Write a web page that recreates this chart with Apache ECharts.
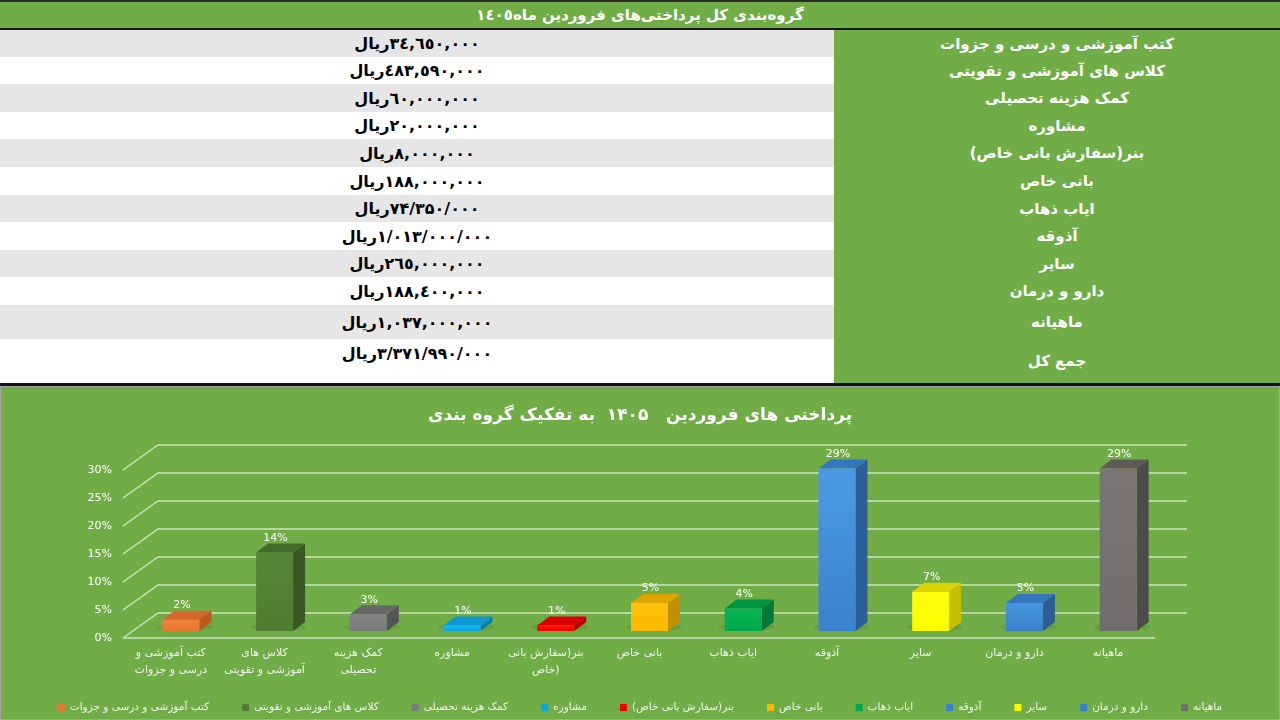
<!DOCTYPE html>
<html lang="fa">
<head>
<meta charset="utf-8">
<script src="https://cdn.jsdelivr.net/npm/echarts@6/dist/echarts.min.js"></script>
<style>
html, body { margin: 0; padding: 0; background: #fff; }
body { width: 1280px; height: 720px; position: relative; overflow: hidden; font-family: "DejaVu Sans", sans-serif; }
#head { position: absolute; left: 0; top: 0; width: 1280px; height: 30px; box-sizing: border-box;
  border-top: 2px solid #2b2b2b; border-bottom: 2px solid #151515; background: #70AD47;
  color: #fff; font-weight: bold; font-size: 15px; line-height: 26px; text-align: center; }
#tbl { position: absolute; left: 0; top: 30px; width: 1280px; border-collapse: collapse; table-layout: fixed; }
#tbl td { padding: 0; overflow: hidden; white-space: nowrap; }
#tbl td.val { width: 834px; text-align: center; color: #000; font-size: 16px; font-weight: bold; }
#tbl td.lab { background: #70AD47; color: #fff; font-weight: bold; font-size: 15px; text-align: center; }
#rule { position: absolute; left: 0; top: 383px; width: 1280px; height: 3px; background: #111; }
#chart { position: absolute; left: 0; top: 386px; width: 1280px; height: 334px; box-sizing: border-box;
  border: 1px solid #a5a5a5; background: #70AD47; }
</style>
</head>
<body>
<div id="head" dir="rtl"></div>
<table id="tbl" dir="ltr"><tbody id="rows"></tbody></table>
<div id="rule"></div>
<div id="chart"></div>
<script>
// table rows (top part)
var rowLabels = ['کتب آموزشی و درسی و جزوات', 'کلاس های آموزشی و تقویتی', 'کمک هزینه تحصیلی', 'مشاوره',
  'بنر(سفارش بانی خاص)', 'بانی خاص', 'ایاب ذهاب', 'آذوقه', 'سایر', 'دارو و درمان', 'ماهیانه', 'جمع کل'];
var rowAmounts = ['٣٤,٦٥٠,٠٠٠ریال', '٤٨٣,٥٩٠,٠٠٠ریال', '٦٠,٠٠٠,٠٠٠ریال', '٢٠,٠٠٠,٠٠٠ریال',
  '٨,٠٠٠,٠٠٠ریال', '١٨٨,٠٠٠,٠٠٠ریال', '۷۴/۳۵۰/۰۰۰ریال', '۱/۰۱۳/۰۰۰/۰۰۰ریال',
  '٢٦٥,٠٠٠,٠٠٠ریال', '١٨٨,٤٠٠,٠٠٠ریال', '١,٠٣٧,٠٠٠,٠٠٠ریال', '۳/۳۷۱/۹۹۰/۰۰۰ریال'];
var rowHeights = [27, 27, 28, 27, 28, 28, 27, 28, 27, 28, 34, 44];
var headTitle = 'گروه‌بندی کل پرداختی‌های فروردین ماه١٤٠٥';

// chart data
var categories = ['کتب آموزشی و درسی و جزوات', 'کلاس های آموزشی و تقویتی', 'کمک هزینه تحصیلی', 'مشاوره',
  'بنر(سفارش بانی خاص)', 'بانی خاص', 'ایاب ذهاب', 'آذوقه', 'سایر', 'دارو و درمان', 'ماهیانه'];
var axisLabels = ['کتب آموزشی و\nدرسی و جزوات', 'کلاس های\nآموزشی و تقویتی', 'کمک هزینه\nتحصیلی', 'مشاوره',
  'بنر(سفارش بانی\nخاص)', 'بانی خاص', 'ایاب ذهاب', 'آذوقه', 'سایر', 'دارو و درمان', 'ماهیانه'];
var shares = [2, 14, 3, 1, 1, 5, 4, 29, 7, 5, 29];
var yTicks = [0, 5, 10, 15, 20, 25, 30];
var chartTitle = 'پرداختی های فروردین   ۱۴۰۵  به تفکیک گروه بندی';

// colours: front (top->bottom), side, top face
var barColors = [
  { front: ['#F08239', '#EA7630'], side: '#B95A1E', top: '#D4672A' },
  { front: ['#578536', '#507C31'], side: '#385722', top: '#436A2A' },
  { front: ['#848484', '#7A7A7A'], side: '#545454', top: '#676767' },
  { front: ['#19B8F2', '#06A6E2'], side: '#0A7FAE', top: '#0E98CF' },
  { front: ['#FF1010', '#F20000'], side: '#B80000', top: '#D90000' },
  { front: ['#FFC20A', '#FBB800'], side: '#C29000', top: '#DDA500' },
  { front: ['#08B455', '#00A84B'], side: '#007835', top: '#009543' },
  { front: ['#4A9BE4', '#3A82CB'], side: '#2A5E95', top: '#3577BC' },
  { front: ['#FFFF10', '#FBFB00'], side: '#C4C000', top: '#D9D300' },
  { front: ['#4797E0', '#3A80C9'], side: '#2A5E95', top: '#3577BC' },
  { front: ['#7A7575', '#726D6D'], side: '#4E4A4A', top: '#5E5A5A' }
];

document.getElementById('head').textContent = headTitle;
var tb = document.getElementById('rows');
rowLabels.forEach(function (lab, i) {
  var tr = document.createElement('tr');
  tr.style.height = rowHeights[i] + 'px';
  var v = document.createElement('td');
  v.className = 'val';
  v.dir = 'rtl';
  v.style.background = (i % 2 === 0) ? '#E7E6E6' : '#FFFFFF';
  v.textContent = rowAmounts[i];
  if (i === rowLabels.length - 1) { v.style.verticalAlign = 'top'; v.style.paddingTop = '5px'; }
  var l = document.createElement('td');
  l.className = 'lab';
  l.dir = 'rtl';
  l.textContent = lab;
  tr.appendChild(v);
  tr.appendChild(l);
  tb.appendChild(tr);
});

var chartDom = document.getElementById('chart');
var myChart = echarts.init(chartDom);
var option;

var LINE = '#cfe3c0';
var DX = 34, DY = 25;     // depth of the floor / back wall
var BX = 10, BY = 7;      // bar plane offset from front
var BW = 37, SD = 12, SH = 9; // bar width and its side depth

var gridSeries = {
  type: 'custom',
  silent: true,
  z: 1,
  data: yTicks.map(function (v) { return [0, v]; }),
  encode: { x: 0, y: 1 },
  renderItem: function (params, api) {
    var cs = params.coordSys;
    var y = api.coord([0, api.value(1)])[1];
    var kids = [{
      type: 'polyline',
      shape: { points: [[cs.x - 1, y], [cs.x + DX, y - DY], [cs.x + cs.width + 32, y - DY]] },
      style: { stroke: LINE, lineWidth: 1.4, fill: null }
    }];
    if (api.value(1) === 0) {
      kids.push({ type: 'line', shape: { x1: cs.x - 1, y1: y, x2: cs.x + cs.width, y2: y },
        style: { stroke: LINE, lineWidth: 1.4 } });
    }
    return { type: 'group', children: kids };
  }
};

var barSeries = categories.map(function (name, k) {
  var col = barColors[k];
  return {
    type: 'custom',
    name: name,
    z: 2,
    itemStyle: { color: col.front[1] },
    data: [[k, shares[k]]],
    encode: { x: 0, y: 1 },
    renderItem: function (params, api) {
      var base = api.coord([api.value(0), 0]);
      var top = api.coord([api.value(0), api.value(1)]);
      var cx = base[0] + BX, y0 = base[1] - BY, y1 = top[1] - BY;
      var l = cx - BW / 2, r = cx + BW / 2;
      return {
        type: 'group',
        children: [
          { type: 'ellipse', shape: { cx: cx + 4, cy: y0 - 4, rx: 28, ry: 4 },
            style: { fill: 'rgba(40,70,20,0.12)', shadowBlur: 14, shadowColor: 'rgba(40,70,20,0.55)' } },
          { type: 'polygon', shape: { points: [[r, y1], [r + SD, y1 - SH], [r + SD, y0 - SH], [r, y0]] },
            style: { fill: col.side } },
          { type: 'polygon', shape: { points: [[l, y1], [r, y1], [r + SD, y1 - SH], [l + SD, y1 - SH]] },
            style: { fill: col.top } },
          { type: 'rect', shape: { x: l, y: y1, width: BW, height: y0 - y1 },
            style: { fill: new echarts.graphic.LinearGradient(0, 0, 0, 1, [
              { offset: 0, color: col.front[0] }, { offset: 1, color: col.front[1] }]) } },
          { type: 'text',
            style: { text: api.value(1) + '%', x: cx + 1, y: y1 - SH, align: 'center', verticalAlign: 'bottom',
              fill: '#ffffff', fontSize: 11, fontFamily: 'DejaVu Sans' } }
        ]
      };
    }
  };
});

option = {
  animation: false,
  textStyle: { fontFamily: 'DejaVu Sans' },
  title: {
    text: chartTitle,
    left: 'center',
    top: 15,
    textStyle: { color: '#ffffff', fontSize: 17, fontWeight: 'bold', fontFamily: 'DejaVu Sans' }
  },
  legend: {
    data: categories,
    left: 'center',
    top: 310,
    icon: 'rect',
    itemWidth: 7,
    itemHeight: 7,
    itemGap: 33,
    textStyle: { color: '#f2f2f2', fontSize: 10.5 }
  },
  grid: { left: 123, right: 124, top: 83, bottom: 81 },
  xAxis: {
    type: 'category',
    data: axisLabels,
    axisLine: { show: false },
    axisTick: { show: false },
    axisLabel: { interval: 0, color: '#f2f2f2', fontSize: 11, lineHeight: 17, margin: 7 }
  },
  yAxis: {
    type: 'value',
    min: 0,
    max: 30,
    interval: 5,
    axisLine: { show: false },
    axisTick: { show: false },
    splitLine: { show: false },
    axisLabel: { formatter: '{value}%', color: '#ffffff', fontSize: 11, margin: 12 }
  },
  series: [gridSeries].concat(barSeries)
};

option && myChart.setOption(option);
</script>
</body>
</html>
